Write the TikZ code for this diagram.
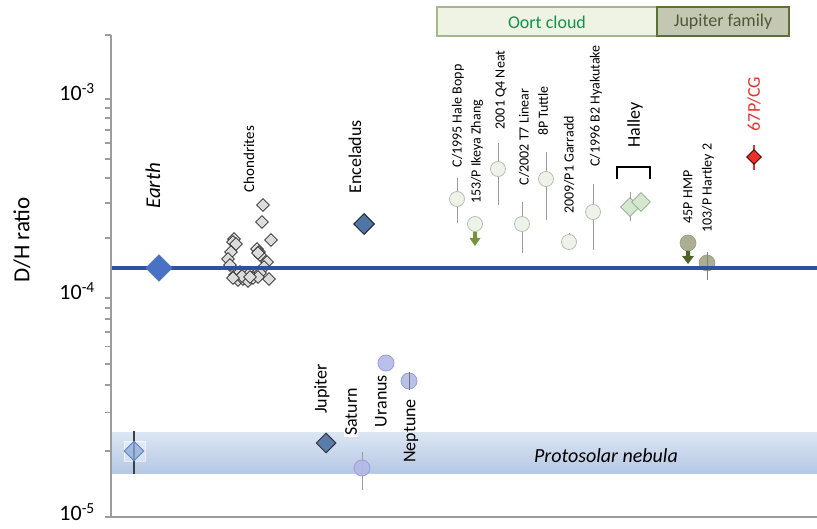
\documentclass[tikz,border=0pt]{standalone}
\usepackage{fontspec}
\setmainfont{Carlito}
\usetikzlibrary{shapes.geometric}
\definecolor{axisgray}{HTML}{9C9C9C}
\definecolor{earthline}{HTML}{2F52A0}
\definecolor{earthfill}{HTML}{4A72C4}
\definecolor{encfill}{HTML}{4F74A8}
\definecolor{jupfill}{HTML}{5B7BAB}
\definecolor{chondfill}{HTML}{DCDCDC}
\definecolor{planfill}{HTML}{B3B9E6}
\definecolor{planedge}{HTML}{97A0DA}
\definecolor{oortfill}{HTML}{EEF3EA}
\definecolor{oortedge}{HTML}{B5C0AE}
\definecolor{errgray}{HTML}{9A9A9A}
\definecolor{halfill}{HTML}{D5E8CF}
\definecolor{haledge}{HTML}{8FA88A}
\definecolor{jffill}{HTML}{ABAE90}
\definecolor{jfedge}{HTML}{9A9D80}
\definecolor{cgred}{HTML}{E8312A}
\definecolor{arrowlight}{HTML}{77933C}
\definecolor{arrowdark}{HTML}{4F6228}
\definecolor{bandtop}{HTML}{DCE6F3}
\definecolor{bandbot}{HTML}{B6C8E5}
\definecolor{protofill}{HTML}{8EAADB}
\definecolor{protoedge}{HTML}{5B86C5}
\definecolor{oortbox}{HTML}{EEF3E4}
\definecolor{oortboxedge}{HTML}{A3B88C}
\definecolor{oorttext}{HTML}{109448}
\definecolor{jfbox}{HTML}{C4C8B2}
\definecolor{jfboxedge}{HTML}{5B7133}
\definecolor{jftext}{HTML}{4D5936}
\tikzset{
  axisline/.style={draw=axisgray, line width=1.6pt},
  dmd/.style={diamond, aspect=1, inner sep=0pt, minimum width=#1, minimum height=#1},
  chond/.style={dmd=13pt, fill=chondfill, draw=black!85, line width=0.7pt},
  planet/.style={circle, inner sep=0pt, minimum size=16pt, fill=planfill, draw=planedge, line width=0.8pt, fill opacity=0.9},
  oortc/.style={circle, inner sep=0pt, minimum size=15pt, fill=oortfill, draw=oortedge, line width=0.8pt},
  jfc/.style={circle, inner sep=0pt, minimum size=16pt, fill=jffill, draw=jfedge, line width=0.6pt},
  errbar/.style={draw=errgray, line width=1pt},
  vlab/.style={rotate=90, inner sep=0pt, font=\fontsize{14}{16}\selectfont},
  blab/.style={rotate=90, inner sep=0pt, font=\fontsize{18}{20}\selectfont},
  ylab/.style={anchor=east, inner sep=0pt, font=\fontsize{22}{24}\selectfont},
}
\begin{document}
\begin{tikzpicture}[x=1pt,y=-1pt]
\useasboundingbox (0,0) rectangle (817,529);
% protosolar band
\shade[top color=bandtop, bottom color=bandbot] (112,432) rectangle (817,473);
\node[font=\fontsize{20}{22}\selectfont\itshape, inner sep=0pt] (psn) at (606,456) {Protosolar nebula};
% axes
\draw[axisline] (111,35) -- (111,517) -- (817,517);
\foreach \yy in {35,99,298,517} \draw[axisline] (105,\yy) -- (111,\yy);
\foreach \k in {2,...,9} {
  \pgfmathsetmacro\ya{298-199*log10(\k)}
  \pgfmathsetmacro\yb{517-219*log10(\k)}
  \draw[axisline] (105,\ya) -- (111,\ya);
  \draw[axisline] (105,\yb) -- (111,\yb);
}
\node[ylab] (y3) at (95,92) {10\textsuperscript{-3}};
\node[ylab] (y4) at (95,291) {10\textsuperscript{-4}};
\node[ylab] (y5) at (95,512) {10\textsuperscript{-5}};
\node[rotate=90, inner sep=0pt, font=\fontsize{23}{25}\selectfont] (yt) at (22,240) {D/H ratio};
% top boxes
\draw[fill=oortbox, draw=oortboxedge, line width=1.5pt] (437,7) rectangle (657,36);
\node[text=oorttext, font=\fontsize{18}{20}\selectfont, inner sep=0pt] (oort) at (547,22) {Oort cloud};
\draw[fill=jfbox, draw=jfboxedge, line width=2pt] (657,7) rectangle (789,36);
\node[text=jftext, font=\fontsize{18}{20}\selectfont, inner sep=0pt] (jf) at (723,22) {Jupiter family};
% protosolar point
\draw[draw=white, fill=white, fill opacity=0.35, draw opacity=0.6] (124,441) rectangle (145,461);
\draw[draw=black!75, line width=1.2pt] (134,431) -- (134,474);
\node[dmd=20pt, fill=protofill, draw=protoedge, fill opacity=0.75, line width=0.9pt] (proto) at (134,451) {};
% planets
\node[dmd=20pt, fill=jupfill, draw=black!80, line width=1pt] (jup) at (326,443) {};
\node[blab] (jupl) at (322,389) {Jupiter};
\node[blab, fill=white, inner sep=1pt] (satl) at (351,412) {Saturn};
\draw[errgray, line width=1pt] (362,452) -- (362,490);
\node[planet] (sat) at (362,468) {};
\node[planet] (ura) at (386,363) {};
\node[blab] (ural) at (381,401) {Uranus};
\node[planet] (nep) at (409,381) {};
\draw[draw=black!55, line width=1pt] (409,372) -- (409,390);
\node[blab] (nepl) at (411,431) {Neptune};
% chondrites
\node[vlab, font=\fontsize{15}{17}\selectfont] (chl) at (249,159) {Chondrites};
\foreach \cx/\cy [count=\i] in {263/205, 262/222, 271/240, 234/239, 233/242, 257/249, 259/252, 260/255, 267/262, 231/252, 228/259, 230/265, 269/279, 264/267, 235/275, 240/272, 245/273, 250/273, 255/275, 260/273, 238/280, 243/279, 248/281, 253/278, 258/277, 242/276, 233/278, 250/277, 236/244, 258/253}
  \node[chond] (ch\i) at (\cx,\cy) {};
% Enceladus
\node[blab] (encl) at (355,157) {Enceladus};
\node[dmd=21pt, fill=encfill, draw=black!85, line width=1pt] (enc) at (364,224) {};
% Oort cloud comets
\draw[errbar] (457,178) -- (457,223);
\node[oortc] (hb) at (457,199) {};
\node[vlab] (hbl) at (458,116) {C/1995 Hale Bopp};
\node[oortc] (iz) at (475,224) {};
\fill[arrowlight] (473,232) -- (477,232) -- (477,238) -- (480.5,238) -- (475,246) -- (469.5,238) -- (473,238) -- cycle;
\node[vlab] (izl) at (477,152) {153/P Ikeya Zhang};
\draw[errbar] (498,143) -- (498,205);
\node[oortc] (nt) at (498,169) {};
\node[vlab] (ntl) at (501,90) {2001 Q4 Neat};
\draw[errbar] (522,202) -- (522,253);
\node[oortc] (ln) at (522,224) {};
\node[vlab] (lnl) at (524,137) {C/2002 T7 Linear};
\draw[errbar] (546,152) -- (546,220);
\node[oortc] (tt) at (546,179) {};
\node[vlab] (ttl) at (543,111) {8P Tuttle};
\draw[errbar] (569,233) -- (569,250);
\node[oortc] (gd) at (569,242) {};
\node[vlab] (gdl) at (569,165) {2009/P1 Garradd};
\draw[errbar] (593,184) -- (593,250);
\node[oortc] (hy) at (593,212) {};
\node[vlab] (hyl) at (596,106) {C/1996 B2 Hyakutake};
% Halley
\draw[errbar] (630,192) -- (630,221);
\node[dmd=19pt, fill=halfill, draw=haledge, line width=0.8pt] (hal1) at (630,207) {};
\node[dmd=19pt, fill=halfill, draw=haledge, line width=0.8pt] (hal2) at (641,202) {};
\draw[black, line width=2.6pt] (617,179) -- (617,167) -- (650,167) -- (650,179);
\node[blab] (hall) at (635,125) {Halley};
% Jupiter family
\node[jfc] (hmp) at (688,243) {};
\fill[arrowdark] (686,251) -- (690,251) -- (690,256) -- (694,256) -- (688,264) -- (682,256) -- (686,256) -- cycle;
\node[vlab] (hmpl) at (688,197) {45P HMP};
\node[jfc] (hrt) at (707,263) {};
\draw[errbar, draw=black!50] (707,252) -- (707,280);
\node[vlab] (hrtl) at (708,188) {103/P Hartley 2};
% Earth line
\draw[earthline, line width=4.5pt] (112,268) -- (817,268);
% Earth
\node[dmd=27pt, fill=earthfill, draw=earthfill] (earth) at (159,268) {};
\node[rotate=90, inner sep=0pt, font=\fontsize{21}{23}\selectfont\itshape] (earthl) at (153,186) {Earth};
% 67P
\draw[cgred, line width=2.5pt] (754,145) -- (754,170);
\node[dmd=15pt, fill=cgred, draw=black!70!red, line width=0.9pt] (cg) at (754,157) {};
\node[blab, text=cgred] (cgl) at (754,104) {67P/CG};
\end{tikzpicture}
\end{document}
